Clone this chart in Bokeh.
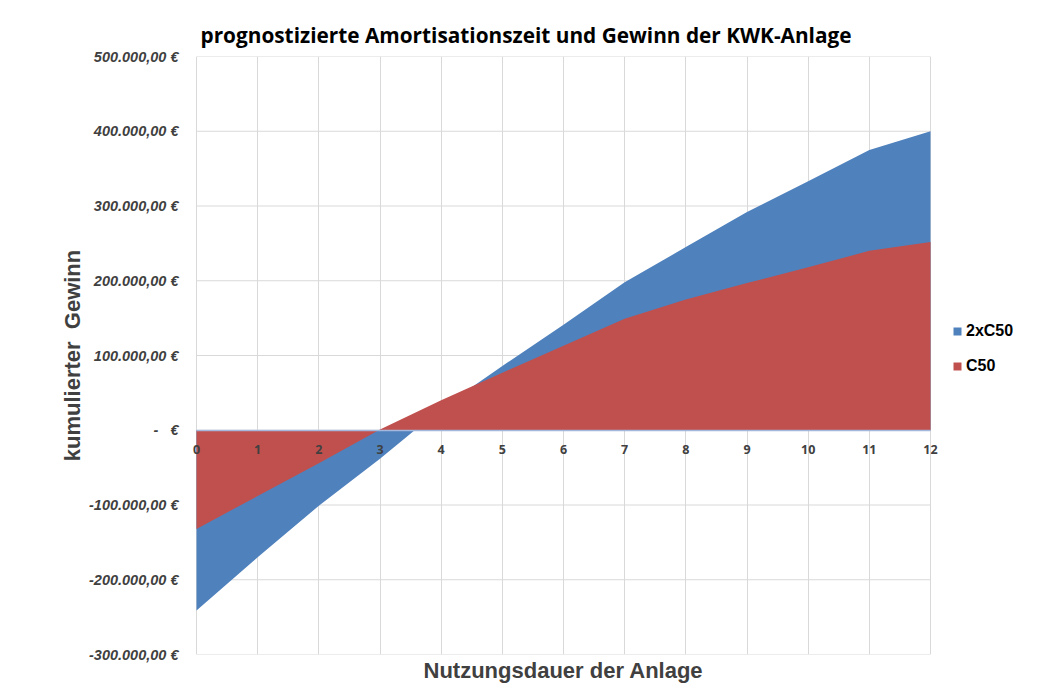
from bokeh.plotting import figure
from bokeh.models import Range1d, FixedTicker, LinearAxis, Legend, LegendItem, Title
from bokeh.embed import file_html
from bokeh.resources import INLINE

# ---- data ----
years = [0, 1, 2, 3, 4, 5, 6, 7, 8, 9, 10, 11, 12]
year_labels = ["0", "1", "2", "3", "4", "5", "6", "7", "8", "9", "10", "11", "12"]
gewinn_2xc50 = [-241000, -170000, -101000, -38000, 29000, 86000, 141000, 198000,
                245000, 292000, 333000, 375000, 400000]
gewinn_c50 = [-132000, -88000, -44000, 1000, 40000, 77000, 113000, 149000,
              175000, 197000, 218000, 240000, 252000]
y_ticks = [-300000, -200000, -100000, 0, 100000, 200000, 300000, 400000, 500000]
y_tick_labels = ["-300.000,00 €", "-200.000,00 €", "-100.000,00 €", "-\u00a0\u00a0\u00a0€",
                 "100.000,00 €", "200.000,00 €", "300.000,00 €", "400.000,00 €",
                 "500.000,00 €"]
series_names = ["2xC50", "C50"]
series_colors = ["#4F81BD", "#C0504D"]

title_text = "prognostizierte Amortisationszeit und Gewinn der KWK-Anlage"
x_title = "Nutzungsdauer der Anlage"
y_title = "kumulierter\u00a0\u00a0Gewinn"

# layout (pixels): plot area 0..12 spans 196..930, frame extended for labels/legend
px_per_year = (930 - 196) / 12.0
frame_left, frame_right = 184, 1035
x_start = -(196 - frame_left) / px_per_year
x_end = (frame_right - 196) / px_per_year

p = figure(width=1037, height=691, output_backend="svg", toolbar_location=None,
           x_range=Range1d(x_start, x_end), y_range=Range1d(-300000, 500000),
           min_border_left=frame_left, min_border_right=1037 - frame_right,
           min_border_top=56, min_border_bottom=37)

p.title.text = title_text
p.title.align = "left"
p.title.offset = 16
p.title.standoff = 15
p.title.text_font = "Open Sans"
p.title.text_font_style = "bold"
p.title.text_font_size = "20.8px"
p.title.text_color = "#000000"

p.outline_line_color = None
p.background_fill_color = "white"
p.border_fill_color = "white"

# horizontal grid lines only across the plot area (0..12)
p.segment(x0=years[0], x1=years[-1], y0=y_ticks, y1=y_ticks,
          line_color="#d9d9d9", line_width=1)

# areas
r_blue = p.varea(x=years, y1=0, y2=gewinn_2xc50, fill_color=series_colors[0])
r_red = p.varea(x=years, y1=0, y2=gewinn_c50, fill_color=series_colors[1])

# grid
p.xgrid.ticker = FixedTicker(ticks=years)
p.xgrid.grid_line_color = "#d9d9d9"
p.ygrid.visible = False

# main x axis hidden; x title as a below title
p.xaxis[0].visible = False
xt = Title(text=x_title, align="left", offset=239)
xt.text_font = "Liberation Sans"
xt.text_font_style = "bold"
xt.text_font_size = "22px"
xt.text_color = "#404040"
xt.standoff = 3
p.add_layout(xt, "below")

# zero-line axis with year labels
zero_axis = LinearAxis(fixed_location=0, ticker=FixedTicker(ticks=years),
                       major_label_overrides=dict(zip(years, year_labels)),
                       bounds=(0, 12))
zero_axis.axis_line_color = "#a3b8dc"
zero_axis.axis_line_width = 1.5
zero_axis.major_tick_line_color = None
zero_axis.minor_tick_line_color = None
zero_axis.major_label_standoff = 9
zero_axis.major_label_text_font = "Open Sans"
zero_axis.major_label_text_font_style = "bold"
zero_axis.major_label_text_font_size = "12.5px"
zero_axis.major_label_text_color = "#404040"
p.add_layout(zero_axis, "below")

# y axis
ya = p.yaxis[0]
ya.ticker = FixedTicker(ticks=y_ticks)
ya.major_label_overrides = dict(zip(y_ticks, y_tick_labels))
ya.major_label_text_font = "Liberation Sans"
ya.major_label_text_font_style = "bold italic"
ya.major_label_text_font_size = "14.5px"
ya.major_label_text_color = "#404040"
ya.major_label_standoff = 0
ya.major_tick_line_color = None
ya.minor_tick_line_color = None
ya.axis_line_color = None
ya.axis_label = y_title
ya.axis_label_text_font = "Liberation Sans"
ya.axis_label_text_font_style = "bold"
ya.axis_label_text_font_size = "22px"
ya.axis_label_text_color = "#404040"
ya.axis_label_standoff = 1

legend = Legend(items=[LegendItem(label=series_names[0], renderers=[r_blue]),
                       LegendItem(label=series_names[1], renderers=[r_red])],
                location=(768, 278))
legend.glyph_width = 10
legend.glyph_height = 10
legend.label_height = 20
legend.spacing = 15
legend.padding = 0
legend.margin = 0
legend.border_line_color = None
legend.background_fill_alpha = 0
legend.label_text_font = "Liberation Sans"
legend.label_text_font_style = "bold"
legend.label_text_font_size = "16px"
legend.label_text_color = "#000000"
legend.label_standoff = 4
p.add_layout(legend, "center")

open("out.html", "w").write(file_html(p, INLINE))
